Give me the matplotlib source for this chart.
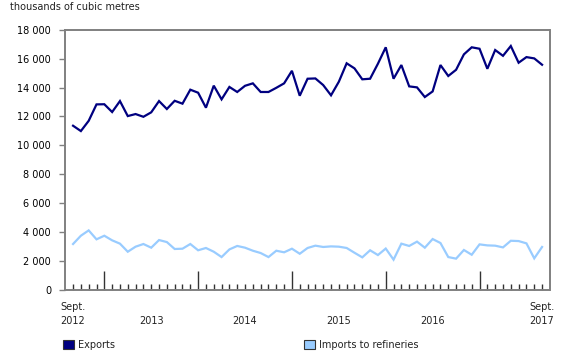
"""Crude oil exports and imports to refineries, Sept. 2012 to Sept. 2017."""

import matplotlib

matplotlib.use("Agg")
import matplotlib.pyplot as plt
from matplotlib.patches import Patch

# monthly values, thousands of cubic metres, Sept. 2012 .. Sept. 2017
exports = [
    11360, 10990, 11700, 12840, 12850, 12310, 13070, 12030, 12170, 11980,
    12290, 13070, 12520, 13090, 12890, 13860, 13650, 12610, 14140, 13190,
    14050, 13700, 14130, 14300, 13700, 13700, 13990, 14300, 15170, 13440,
    14620, 14640, 14180, 13470, 14410, 15690, 15340, 14580, 14620, 15660,
    16800, 14620, 15570, 14090, 14020, 13350, 13740, 15570, 14810, 15240,
    16310, 16800, 16700, 15310, 16610, 16210, 16890, 15730, 16120, 16030,
    15590,
]
imports = [
    3155, 3730, 4100, 3480, 3730, 3410, 3180, 2620, 2970, 3155,
    2900, 3430, 3290, 2810, 2830, 3155, 2720, 2880, 2620, 2250,
    2780, 3020, 2900, 2690, 2530, 2250, 2690, 2580, 2830, 2480,
    2880, 3040, 2950, 2990, 2970, 2880, 2550, 2230, 2720, 2390,
    2840, 2070, 3180, 3020, 3320, 2900, 3500, 3225, 2250, 2140,
    2740, 2410, 3130, 3060, 3040, 2920, 3380, 3360, 3200, 2160,
    2950,
]
series_names = ["Exports", "Imports to refineries"]
year_pos = [0, 10, 22, 34, 46, 60]
year_labels = ["2012", "2013", "2014", "2015", "2016", "2017"]
january_pos = [4, 16, 28, 40, 52]
yticks = list(range(0, 18001, 2000))

NAVY = "#000080"
LIGHT = "#99ccff"
GREY = "#808080"
FS = 7

plt.rcParams["font.family"] = ["DejaVu Sans"]
plt.rcParams["text.color"] = "#222222"

fig = plt.figure(figsize=(5.8, 3.6), dpi=100)
ax = fig.add_axes([65 / 580, 1 - 289.5 / 360, 484.5 / 580, 259.5 / 360])

months = list(range(len(exports)))
ax.plot(months, imports, color=LIGHT, linewidth=1.6, solid_joinstyle="miter")
ax.plot(months, exports, color=NAVY, linewidth=1.6, solid_joinstyle="miter")

ax.set_xlim(-1.03, 60.95)
ax.set_ylim(0, 18000)

for side in ax.spines.values():
    side.set_color(GREY)
    side.set_linewidth(1.4)

ax.set_yticks(yticks)
ax.set_yticklabels([f"{v:,}".replace(",", " ") for v in yticks], fontsize=FS)
ax.tick_params(axis="y", direction="out", length=4, width=1, color=GREY, pad=6)

# month ticks point up from the bottom axis, Januaries longer
ax.set_xticks(january_pos)
ax.set_xticks([m for m in months if m not in january_pos], minor=True)
ax.tick_params(axis="x", which="major", direction="in", length=14, width=1,
               color="#333333", labelbottom=False)
ax.tick_params(axis="x", which="minor", direction="in", length=4.5, width=1,
               color="#333333")

tr = ax.get_xaxis_transform()
for pos, lab in zip(year_pos, year_labels):
    ax.text(pos, -0.12, lab, transform=tr, ha="center", va="center", fontsize=FS)
for pos in (year_pos[0], year_pos[-1]):
    ax.text(pos, -0.067, "Sept.", transform=tr, ha="center", va="center", fontsize=FS)

fig.text(10.5 / 580, 1 - 7.5 / 360, "thousands of cubic metres",
         ha="left", va="center", fontsize=FS)

for name, col, x0 in zip(series_names, [NAVY, LIGHT], [63 / 580, 304 / 580]):
    fig.legend(handles=[Patch(facecolor=col, edgecolor="#333333", linewidth=0.8)],
               labels=[name], loc="center left", bbox_to_anchor=(x0, 15 / 360),
               frameon=False, fontsize=FS, handlelength=1.1, handleheight=1.1,
               handletextpad=0.45, borderpad=0, borderaxespad=0)

fig.savefig("out.png", dpi=100)
